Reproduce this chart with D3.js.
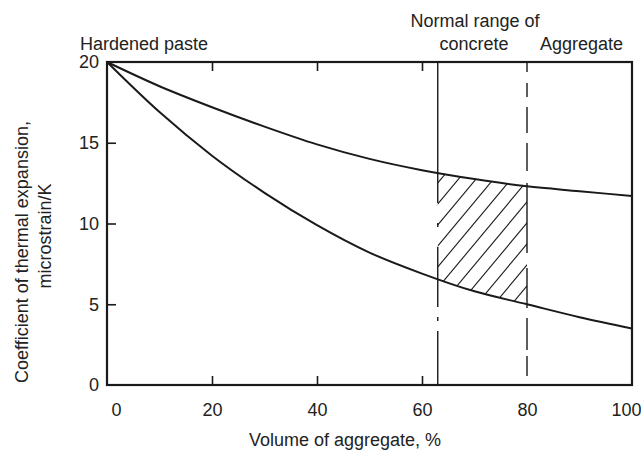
<!DOCTYPE html>
<html>
<head>
<meta charset="utf-8">
<script src="https://cdn.jsdelivr.net/npm/d3@7"></script>
<style>
  html, body { margin: 0; padding: 0; background: #fff; }
  svg { display: block; }
  text { font-family: "Liberation Sans", Arial, sans-serif; fill: #222; }
</style>
</head>
<body>
<svg id="chart" width="641" height="455"></svg>
<script>
// Aggregate volume fraction (%) at which the bounds are sampled
const volume = [0, 10, 20, 30, 40, 50, 60, 70, 80, 90, 100];
// Upper bound of the coefficient of thermal expansion (microstrain/K)
const upperBound = [20, 18.5, 17.2, 16.0, 14.9, 14.0, 13.3, 12.75, 12.3, 12.0, 11.7];
// Lower bound of the coefficient of thermal expansion (microstrain/K)
const lowerBound = [20, 16.9, 14.2, 11.9, 9.9, 8.2, 6.9, 5.8, 5.0, 4.2, 3.5];
// Normal range of aggregate content in concrete (%)
const concreteRange = [63, 80];
const xTicks = [0, 20, 40, 60, 80, 100];
const yTicks = [0, 5, 10, 15, 20];

const svg = d3.select("#chart");
const x = d3.scaleLinear().domain([0, 100]).range([107, 632]);
const y = d3.scaleLinear().domain([0, 20]).range([385, 62]);

const ink = "#1a1a1a";
const fs = "18px";

// Value of a bound at volume v, read linearly between samples
const interp = arr => v => {
  const j = Math.min(volume.length - 2, Math.floor(v / 10));
  const t = (v - volume[j]) / (volume[j + 1] - volume[j]);
  return arr[j] + t * (arr[j + 1] - arr[j]);
};
const upperAt = interp(upperBound), lowerAt = interp(lowerBound);

const lineGen = d3.line().x(d => x(d[0])).y(d => y(d[1])).curve(d3.curveMonotoneX);
const upperPts = volume.map((v, i) => [v, upperBound[i]]);
const lowerPts = volume.map((v, i) => [v, lowerBound[i]]);

// Hatched band between the two bounds over the concrete range
const steps = d3.range(concreteRange[0], concreteRange[1] + 0.001, 0.5);
const bandTop = steps.map(v => [x(v), y(upperAt(v))]);
const bandBot = steps.slice().reverse().map(v => [x(v), y(lowerAt(v))]);
const defs = svg.append("defs");
defs.append("clipPath").attr("id", "band")
  .append("path")
  .attr("d", "M" + bandTop.concat(bandBot).map(p => p.join(",")).join("L") + "Z");

const hatch = svg.append("g").attr("clip-path", "url(#band)");
const x0 = x(concreteRange[0]), x1 = x(concreteRange[1]);
const dx = 17.5, dy = 21;
for (let k = -12; k < 12; k++) {
  const yy = 183 + k * dy;
  hatch.append("line")
    .attr("x1", x0 - 40).attr("y1", yy + 40 * dy / dx)
    .attr("x2", x1 + 200).attr("y2", yy - (x1 + 200 - x0) * dy / dx)
    .attr("stroke", ink).attr("stroke-width", 1.1);
}

// Vertical boundaries of the concrete range
svg.append("line")
  .attr("x1", x(concreteRange[0])).attr("x2", x(concreteRange[0]))
  .attr("y1", y(20)).attr("y2", y(0))
  .attr("stroke", ink).attr("stroke-width", 1.4)
  .attr("stroke-dasharray", "141,20,4,20,60,10,4,10,200");
svg.append("line")
  .attr("x1", x(concreteRange[1])).attr("x2", x(concreteRange[1]))
  .attr("y1", y(20)).attr("y2", y(0))
  .attr("stroke", ink).attr("stroke-width", 1.4)
  .attr("stroke-dasharray", "10,11,14,10,26,10,28,12,70,15,40,10,32,6,20");

// Bound curves
svg.append("path").attr("d", lineGen(upperPts))
  .attr("fill", "none").attr("stroke", ink).attr("stroke-width", 2);
svg.append("path").attr("d", lineGen(lowerPts))
  .attr("fill", "none").attr("stroke", ink).attr("stroke-width", 2);

// Axes: ticks point inward
const tickLen = 9;
const axBottom = svg.append("g").attr("transform", `translate(0,${y(0)})`)
  .call(d3.axisBottom(x).tickValues(xTicks).tickSize(-tickLen).tickPadding(18)
    .tickFormat(d3.format("d")));
const axTop = svg.append("g").attr("transform", `translate(0,${y(20)})`)
  .call(d3.axisTop(x).tickValues([20, 40, 60]).tickSize(-tickLen).tickFormat(""));
const axLeft = svg.append("g").attr("transform", `translate(${x(0)},0)`)
  .call(d3.axisLeft(y).tickValues(yTicks).tickSize(-tickLen).tickPadding(8));

[axBottom, axTop, axLeft].forEach(g => {
  g.select(".domain").remove();
  g.selectAll(".tick line").attr("stroke", ink).attr("stroke-width", 1.6);
  g.selectAll("text").style("font-size", fs).attr("fill", "#222");
});
axBottom.selectAll(".tick line").filter(d => d === 0 || d === 80 || d === 100).remove();
axLeft.selectAll(".tick line").filter(d => d === 0 || d === 20).remove();
// First and last labels sit inward of the frame corners
axBottom.selectAll(".tick text").filter(d => d === 0).attr("dx", 9);
axBottom.selectAll(".tick text").filter(d => d === 100).attr("dx", -6);

// Plot frame
svg.append("rect")
  .attr("x", x(0)).attr("y", y(20))
  .attr("width", x(100) - x(0)).attr("height", y(0) - y(20))
  .attr("fill", "none").attr("stroke", ink).attr("stroke-width", 2.2);

// Annotations
svg.append("text").attr("x", 80).attr("y", 50).style("font-size", fs).text("Hardened paste");
svg.append("text").attr("x", 475).attr("y", 27).attr("text-anchor", "middle").style("font-size", fs).text("Normal range of");
svg.append("text").attr("x", 474).attr("y", 50).attr("text-anchor", "middle").style("font-size", fs).text("concrete");
svg.append("text").attr("x", 540).attr("y", 50).style("font-size", fs).text("Aggregate");

// Axis titles
svg.append("text").attr("x", 345).attr("y", 446).attr("text-anchor", "middle")
  .style("font-size", fs).text("Volume of aggregate, %");
svg.append("text").attr("transform", "translate(28,252) rotate(-90)")
  .attr("text-anchor", "middle").style("font-size", fs)
  .text("Coefficient of thermal expansion,");
svg.append("text").attr("transform", "translate(51,236) rotate(-90)")
  .attr("text-anchor", "middle").style("font-size", fs)
  .text("microstrain/K");
</script>
</body>
</html>
